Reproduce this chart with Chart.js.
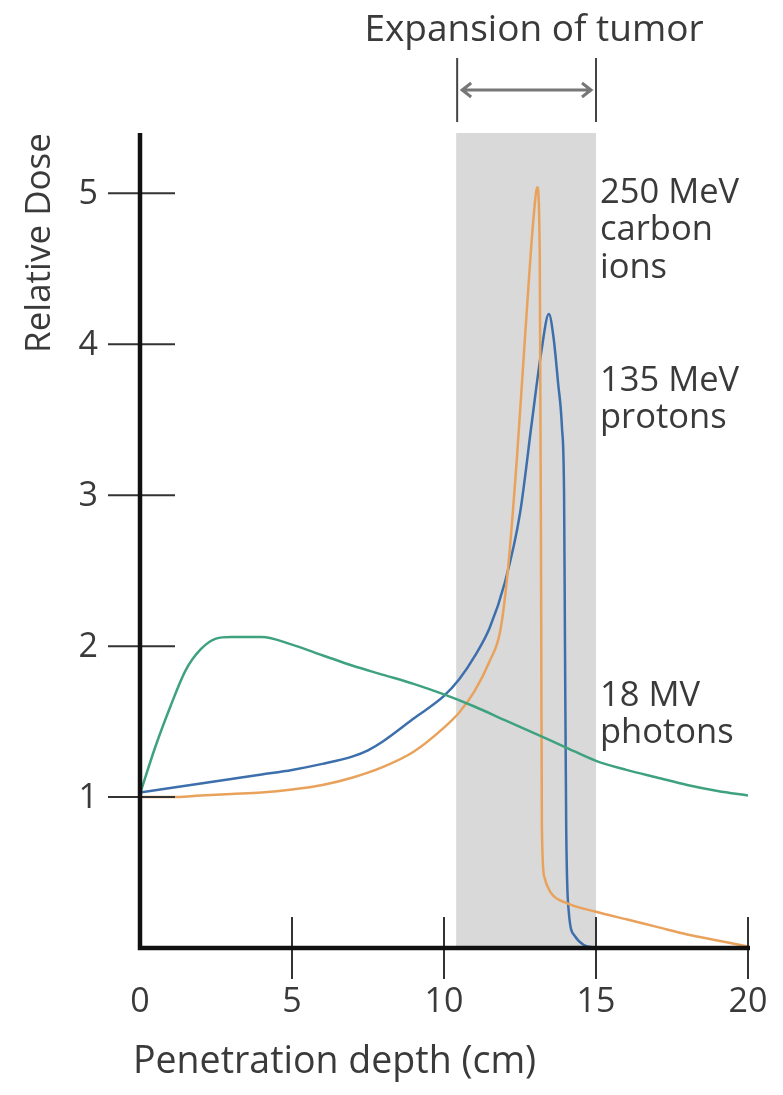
<!DOCTYPE html>
<html lang="en">
<head>
<meta charset="UTF-8">
<title>Relative Dose vs Penetration depth</title>
<script src="https://cdn.jsdelivr.net/npm/chart.js@4.4.1/dist/chart.umd.min.js"></script>
<style>
  html, body { margin: 0; padding: 0; background: #ffffff; }
  canvas { display: block; }
</style>
</head>
<body>
<canvas id="myChart" width="783" height="1095"></canvas>
<script>
// depth in cm, dose relative to surface dose
var photonDepth = [0, 0.5, 1, 1.5, 2, 2.5, 3, 4, 5, 6, 7, 8, 9, 10, 11, 12, 13, 14, 15, 16, 17, 18, 19, 20];
var photonDose  = [1.02, 1.33, 1.6, 1.84, 1.98, 2.05, 2.06, 2.06, 2.01, 1.94, 1.87, 1.81, 1.75, 1.68, 1.6, 1.51, 1.42, 1.33, 1.24, 1.18, 1.13, 1.08, 1.04, 1.01];

var protonDepth = [0, 1, 2, 3, 4, 5, 6, 7, 7.5, 8, 9, 10, 10.5, 11, 11.5, 12, 12.5, 12.9, 13.2, 13.45, 13.6, 13.75, 13.88, 13.95, 13.98, 14.02, 14.1, 14.3, 14.6, 15];
var protonDose  = [1.03, 1.06, 1.09, 1.12, 1.15, 1.18, 1.22, 1.27, 1.31, 1.37, 1.52, 1.67, 1.78, 1.93, 2.12, 2.42, 2.88, 3.5, 3.95, 4.2, 4.05, 3.75, 3.45, 3.0, 2.0, 0.8, 0.25, 0.08, 0.02, 0.0];

var carbonDepth = [0, 1, 2, 3, 4, 5, 6, 7, 8, 9, 10, 10.5, 11, 11.5, 11.85, 12.1, 12.4, 12.6, 12.8, 12.95, 13.07, 13.15, 13.2, 13.22, 13.3, 13.5, 14, 15, 16, 17, 18, 19, 20];
var carbonDose  = [1.0, 1.0, 1.01, 1.02, 1.03, 1.05, 1.08, 1.13, 1.2, 1.3, 1.46, 1.56, 1.7, 1.9, 2.1, 2.5, 3.25, 3.85, 4.45, 4.85, 5.04, 4.6, 2.0, 0.8, 0.47, 0.37, 0.3, 0.24, 0.19, 0.14, 0.09, 0.05, 0.01];

var xTicks = [5, 10, 15, 20];
var xTickLabels = ['0', '5', '10', '15', '20'];
var xLabelValues = [0, 5, 10, 15, 20];
var yTicks = [1, 2, 3, 4, 5];

var tumorStart = 10.4;
var tumorEnd = 15;

function toPoints(xs, ys) {
  var pts = [];
  for (var i = 0; i < xs.length; i++) pts.push({ x: xs[i], y: ys[i] });
  return pts;
}

var FONT = '"Open Sans", "DejaVu Sans", sans-serif';
var TEXT = '#3a3a3a';

// grey band for the tumor region, drawn behind the curves
var bandPlugin = {
  id: 'band',
  beforeDatasetsDraw: function (chart) {
    var ctx = chart.ctx, xs = chart.scales.x, a = chart.chartArea;
    var x0 = xs.getPixelForValue(tumorStart), x1 = xs.getPixelForValue(tumorEnd);
    ctx.save();
    ctx.fillStyle = '#d9d9d9';
    ctx.fillRect(x0, a.top, x1 - x0, a.bottom - a.top);
    ctx.restore();
  }
};

// axes, ticks, labels and annotations
var axesPlugin = {
  id: 'axesDraw',
  afterDatasetsDraw: function (chart) {
    var ctx = chart.ctx, xs = chart.scales.x, ys = chart.scales.y, a = chart.chartArea;
    var x0 = xs.getPixelForValue(0), y0 = ys.getPixelForValue(0);
    ctx.save();

    // tick marks
    ctx.strokeStyle = '#333';
    ctx.lineWidth = 2;
    yTicks.forEach(function (v) {
      var y = ys.getPixelForValue(v);
      ctx.beginPath(); ctx.moveTo(x0 - 32, y); ctx.lineTo(x0 + 35, y); ctx.stroke();
    });
    xTicks.forEach(function (v) {
      var x = xs.getPixelForValue(v);
      ctx.beginPath(); ctx.moveTo(x, y0 - 31); ctx.lineTo(x, y0 + 31); ctx.stroke();
    });

    // main axis lines
    ctx.strokeStyle = '#111';
    ctx.lineWidth = 4.5;
    ctx.beginPath();
    ctx.moveTo(x0, a.top);
    ctx.lineTo(x0, y0);
    ctx.lineTo(xs.getPixelForValue(20) + 2, y0);
    ctx.stroke();

    // tick labels
    ctx.fillStyle = TEXT;
    ctx.font = '34px ' + FONT;
    ctx.textBaseline = 'middle';
    ctx.textAlign = 'right';
    yTicks.forEach(function (v) {
      ctx.fillText(String(v), x0 - 42, ys.getPixelForValue(v) + 1);
    });
    ctx.textAlign = 'center';
    xLabelValues.forEach(function (v, i) {
      ctx.fillText(xTickLabels[i], xs.getPixelForValue(v), y0 + 54);
    });

    // axis titles
    ctx.font = '37.5px ' + FONT;
    ctx.textAlign = 'left';
    ctx.fillText('Penetration depth (cm)', 133, 1062);
    ctx.save();
    ctx.translate(40, 243);
    ctx.rotate(-Math.PI / 2);
    ctx.textAlign = 'center';
    ctx.font = '35px ' + FONT;
    ctx.fillText('Relative Dose', 0, 0);
    ctx.restore();

    // curve labels
    ctx.font = '34.5px ' + FONT;
    ctx.textAlign = 'left';
    var lx = 600;
    ctx.fillText('250 MeV', lx, 193);
    ctx.fillText('carbon', lx, 230);
    ctx.fillText('ions', lx, 268);
    ctx.fillText('135 MeV', lx, 381);
    ctx.fillText('protons', lx, 418);
    ctx.fillText('18 MV', lx, 696);
    ctx.fillText('photons', lx, 733);

    // tumor expansion marker
    var bx0 = xs.getPixelForValue(tumorStart) + 1, bx1 = xs.getPixelForValue(tumorEnd);
    ctx.strokeStyle = '#444';
    ctx.lineWidth = 2;
    ctx.beginPath();
    ctx.moveTo(bx0, 58); ctx.lineTo(bx0, 122);
    ctx.moveTo(bx1, 58); ctx.lineTo(bx1, 122);
    ctx.stroke();
    ctx.strokeStyle = '#777';
    ctx.lineWidth = 3;
    ctx.beginPath();
    ctx.moveTo(bx0 + 5, 90); ctx.lineTo(bx1 - 5, 90);
    ctx.moveTo(bx0 + 14, 83); ctx.lineTo(bx0 + 5, 90); ctx.lineTo(bx0 + 14, 97);
    ctx.moveTo(bx1 - 14, 83); ctx.lineTo(bx1 - 5, 90); ctx.lineTo(bx1 - 14, 97);
    ctx.stroke();

    ctx.font = '37px ' + FONT;
    ctx.textAlign = 'center';
    ctx.textBaseline = 'alphabetic';
    ctx.fillText('Expansion of tumor', 534, 41);

    ctx.restore();
  }
};

var ctx = document.getElementById('myChart').getContext('2d');
var chart = new Chart(ctx, {
  type: 'line',
  data: {
    datasets: [
      {
        label: '18 MV photons',
        data: toPoints(photonDepth, photonDose),
        borderColor: '#3fa27e',
        borderWidth: 2.5,
        pointRadius: 0,
        cubicInterpolationMode: 'monotone',
        fill: false
      },
      {
        label: '250 MeV carbon ions',
        data: toPoints(carbonDepth, carbonDose),
        borderColor: '#e9a25c',
        borderWidth: 2.5,
        pointRadius: 0,
        cubicInterpolationMode: 'monotone',
        fill: false
      },
      {
        label: '135 MeV protons',
        data: toPoints(protonDepth, protonDose),
        borderColor: '#3c6fab',
        borderWidth: 2.5,
        pointRadius: 0,
        cubicInterpolationMode: 'monotone',
        fill: false
      }
    ]
  },
  options: {
    responsive: false,
    animation: false,
    devicePixelRatio: 1,
    layout: { padding: { left: 140, right: 35, top: 133, bottom: 147 } },
    plugins: { legend: { display: false }, tooltip: { enabled: false } },
    scales: {
      x: { type: 'linear', min: 0, max: 20, display: false },
      y: { type: 'linear', min: 0, max: 5.4, display: false }
    }
  },
  plugins: [bandPlugin, axesPlugin]
});
</script>
</body>
</html>
